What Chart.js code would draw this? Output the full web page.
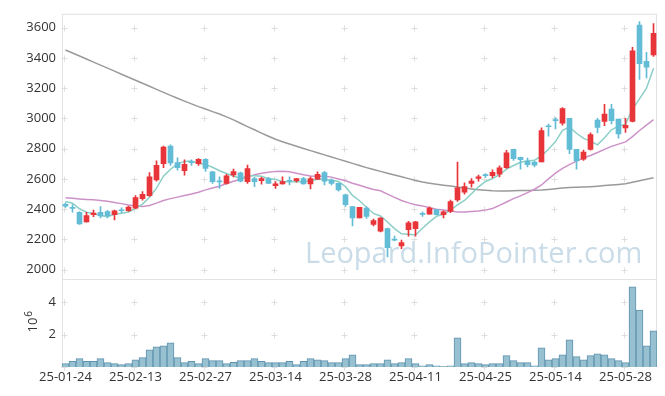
<!DOCTYPE html>
<html>
<head>
<meta charset="utf-8">
<script src="https://cdn.jsdelivr.net/npm/chart.js@4.4.1/dist/chart.umd.min.js"></script>
<style>
  html, body { margin: 0; padding: 0; background: #fff; }
  canvas { display: block; }
</style>
</head>
<body>
<canvas id="chart" width="665" height="396"></canvas>
<script>
const dates = [
  '25-01-24','25-01-31','25-02-03','25-02-04','25-02-05','25-02-06','25-02-07','25-02-10','25-02-11','25-02-12',
  '25-02-13','25-02-14','25-02-17','25-02-18','25-02-19','25-02-20','25-02-21','25-02-24','25-02-25','25-02-26',
  '25-02-27','25-02-28','25-03-04','25-03-05','25-03-06','25-03-07','25-03-10','25-03-11','25-03-12','25-03-13',
  '25-03-14','25-03-17','25-03-18','25-03-19','25-03-20','25-03-21','25-03-24','25-03-25','25-03-26','25-03-27',
  '25-03-28','25-03-31','25-04-01','25-04-02','25-04-03','25-04-04','25-04-07','25-04-08','25-04-09','25-04-10',
  '25-04-11','25-04-14','25-04-15','25-04-16','25-04-17','25-04-18','25-04-21','25-04-22','25-04-23','25-04-24',
  '25-04-25','25-04-28','25-04-29','25-04-30','25-05-02','25-05-07','25-05-08','25-05-09','25-05-12','25-05-13',
  '25-05-14','25-05-15','25-05-16','25-05-19','25-05-20','25-05-21','25-05-22','25-05-23','25-05-26','25-05-27',
  '25-05-28','25-05-29','25-05-30','25-06-02','25-06-04'
];

const opens = [
  2433,2412,2379,2316,2364,2380,2385,2364,2396,2390,
  2407,2469,2490,2593,2701,2817,2708,2654,2713,2701,
  2730,2647,2587,2571,2627,2640,2582,2603,2588,2603,
  2556,2567,2591,2588,2603,2567,2599,2642,2593,2571,
  2495,2418,2342,2407,2299,2255,2272,2203,2157,2265,
  2272,2372,2368,2397,2364,2386,2462,2512,2571,2603,
  2628,2621,2632,2675,2795,2743,2717,2712,2712,2951,
  2993,2969,3000,2795,2730,2795,2989,2980,3061,2996,
  2937,2980,3616,3377,3420
];
const highs = [
  2442,2430,2385,2380,2394,2418,2392,2395,2410,2420,
  2490,2516,2642,2719,2817,2825,2740,2727,2727,2735,
  2735,2650,2614,2630,2665,2645,2691,2610,2610,2610,
  2582,2614,2614,2603,2610,2614,2647,2650,2600,2575,
  2500,2418,2412,2415,2335,2345,2275,2222,2196,2320,
  2320,2382,2415,2400,2390,2460,2712,2575,2603,2625,
  2635,2660,2686,2789,2797,2745,2738,2717,2937,2963,
  3006,3072,3000,2795,2790,2904,3000,3093,3093,2996,
  3000,3470,3639,3436,3627
];
const lows = [
  2412,2380,2300,2314,2350,2342,2342,2330,2378,2385,
  2405,2460,2484,2585,2675,2690,2658,2625,2690,2690,
  2650,2570,2538,2565,2614,2580,2571,2549,2565,2570,
  2538,2565,2560,2578,2565,2534,2596,2560,2560,2520,
  2418,2290,2342,2340,2290,2250,2085,2190,2140,2222,
  2222,2353,2368,2360,2342,2378,2451,2500,2545,2585,
  2610,2608,2614,2670,2723,2665,2680,2680,2712,2882,
  2930,2956,2767,2665,2723,2790,2904,2952,2963,2869,
  2908,2976,3257,3268,3410
];
const closes = [
  2420,2405,2303,2358,2374,2355,2358,2390,2390,2414,
  2477,2499,2614,2690,2810,2706,2675,2697,2707,2730,
  2669,2582,2580,2621,2648,2586,2669,2582,2603,2571,
  2567,2582,2585,2603,2567,2603,2630,2586,2571,2527,
  2430,2342,2412,2353,2325,2342,2146,2196,2180,2310,
  2316,2366,2408,2364,2382,2451,2542,2549,2586,2614,
  2622,2643,2673,2773,2734,2727,2695,2691,2920,2945,
  2985,3065,2795,2719,2778,2893,2941,3028,2985,2897,
  2954,3446,3361,3338,3562
];

// moving averages
const ma5 = [
  2451,2440,2403,2380,2372,2359,2350,2367,2373,2381,
  2406,2434,2479,2539,2618,2664,2699,2716,2719,2703,
  2696,2677,2654,2636,2620,2603,2621,2621,2618,2602,
  2598,2581,2582,2582,2581,2588,2598,2598,2591,2583,
  2549,2491,2456,2413,2372,2355,2316,2272,2238,2235,
  2230,2274,2316,2353,2367,2394,2429,2458,2502,2548,
  2583,2603,2628,2665,2689,2710,2720,2724,2753,2796,
  2847,2921,2942,2902,2868,2850,2825,2872,2925,2949,
  2961,3062,3129,3199,3332
];
const ma20 = [
  2476,2472,2468,2465,2462,2458,2452,2445,2437,2428,
  2421,2418,2425,2440,2458,2470,2480,2490,2500,2512,
  2528,2540,2552,2570,2585,2598,2612,2628,2638,2645,
  2650,2651,2648,2638,2628,2620,2618,2618,2612,2600,
  2588,2572,2558,2543,2530,2522,2500,2478,2458,2442,
  2430,2422,2410,2400,2395,2388,2382,2382,2385,2388,
  2394,2405,2425,2448,2470,2488,2510,2532,2560,2600,
  2638,2670,2695,2718,2738,2755,2775,2795,2815,2830,
  2845,2880,2920,2955,2992
];
const maLong = [
  3452,3432,3412,3392,3372,3352,3332,3312,3292,3272,
  3252,3232,3212,3192,3172,3152,3133,3114,3096,3078,
  3062,3045,3029,3010,2990,2968,2946,2925,2903,2882,
  2862,2846,2831,2816,2801,2787,2773,2759,2745,2731,
  2717,2703,2689,2675,2662,2650,2638,2626,2614,2602,
  2590,2580,2572,2565,2559,2553,2547,2540,2534,2529,
  2525,2522,2521,2521,2522,2523,2524,2525,2527,2531,
  2536,2540,2543,2545,2547,2549,2552,2556,2560,2564,
  2568,2578,2588,2598,2608
];

// volume in millions of shares
const volumes = [
  0.21,0.35,0.52,0.35,0.35,0.52,0.27,0.21,0.15,0.21,
  0.45,0.58,1.07,1.25,1.31,1.50,0.58,0.27,0.35,0.21,
  0.52,0.39,0.39,0.21,0.29,0.39,0.39,0.52,0.35,0.27,
  0.27,0.27,0.35,0.15,0.35,0.52,0.45,0.39,0.27,0.27,
  0.52,0.76,0.15,0.15,0.21,0.21,0.45,0.21,0.27,0.52,
  0.21,0.08,0.15,0.08,0.02,0.08,1.81,0.21,0.27,0.21,
  0.15,0.21,0.21,0.70,0.39,0.27,0.27,0.08,1.19,0.45,
  0.52,0.76,1.68,0.64,0.45,0.70,0.82,0.76,0.52,0.39,
  0.27,4.97,3.53,1.31,2.24
];

const priceMin = 1941, priceMax = 3691;
const volMax = 5.47;

const upColor = '#e8353a';
const downColor = '#62bcd6';
const candleColors = closes.map((c, i) => c >= opens[i] ? upColor : downColor);
const tickFont = { family: '"Open Sans"', size: 13 };

const decor = {
  id: 'decor',
  beforeDatasetsDraw(chart) {
    const { ctx, chartArea: a, scales } = chart;
    ctx.save();
    // watermark
    ctx.font = '29px "Open Sans"';
    ctx.fillStyle = '#c9dce8';
    ctx.textBaseline = 'alphabetic';
    ctx.fillText('Leopard.InfoPointer.com', 305, 263);

    // frame
    ctx.strokeStyle = '#e2e2e2';
    ctx.lineWidth = 1;
    ctx.strokeRect(a.left + 0.5, a.top + 0.5, a.width - 1, a.height - 1);
    const sep = Math.round(scales.y.bottom) + 0.5;
    ctx.beginPath();
    ctx.moveTo(a.left, sep);
    ctx.lineTo(a.right, sep);
    ctx.stroke();

    // little crosses at grid intersections
    ctx.strokeStyle = '#dedede';
    ctx.beginPath();
    for (let i = 0; i < dates.length; i += 10) {
      const px = Math.round(scales.x.getPixelForValue(i)) - 1.5;
      for (const s of [scales.y, scales.yv]) {
        s.ticks.forEach(t => {
          const py = Math.round(s.getPixelForValue(t.value)) + 0.5;
          ctx.moveTo(px - 3, py); ctx.lineTo(px + 3, py);
          ctx.moveTo(px, py - 3); ctx.lineTo(px, py + 3);
        });
      }
    }
    ctx.stroke();
    ctx.restore();
  },
  afterDraw(chart) {
    const { ctx } = chart;
    ctx.save();
    ctx.translate(33, 325);
    ctx.rotate(-Math.PI / 2);
    ctx.fillStyle = '#333';
    ctx.textAlign = 'center';
    ctx.textBaseline = 'middle';
    ctx.font = '13px "Open Sans"';
    ctx.fillText('10', 0, 0);
    ctx.font = '10px "Open Sans"';
    ctx.fillText('6', 11, -4);
    ctx.restore();
  }
};

new Chart(document.getElementById('chart'), {
  data: {
    labels: dates,
    datasets: [
      {
        type: 'bar', label: 'body', yAxisID: 'y', order: 1, grouped: false,
        data: opens.map((o, i) => [o, closes[i]]),
        backgroundColor: candleColors, barThickness: 5, minBarLength: 1, borderWidth: 0
      },
      {
        type: 'bar', label: 'wick', yAxisID: 'y', order: 2, grouped: false,
        data: lows.map((l, i) => [l, highs[i]]),
        backgroundColor: candleColors, barThickness: 1, borderWidth: 0
      },
      {
        type: 'line', label: 'MA5', yAxisID: 'y', order: 3, data: ma5,
        borderColor: '#8bcfc6', borderWidth: 1.5, pointRadius: 0, tension: 0
      },
      {
        type: 'line', label: 'MA20', yAxisID: 'y', order: 3, data: ma20,
        borderColor: '#cc92c8', borderWidth: 1.5, pointRadius: 0, tension: 0
      },
      {
        type: 'line', label: 'MA120', yAxisID: 'y', order: 3, data: maLong,
        borderColor: '#9a9a9a', borderWidth: 1.5, pointRadius: 0, tension: 0
      },
      {
        type: 'bar', label: 'volume', yAxisID: 'yv', order: 4, grouped: false,
        data: volumes,
        backgroundColor: '#97c0d0', borderColor: '#5f94ae', borderWidth: 1,
        barPercentage: 1, categoryPercentage: 1
      }
    ]
  },
  options: {
    responsive: false,
    devicePixelRatio: 1,
    animation: false,
    layout: { padding: { left: 0, right: 8, top: 10, bottom: 0 } },
    plugins: { legend: { display: false }, tooltip: { enabled: false } },
    scales: {
      x: {
        type: 'category',
        grid: { display: false, drawTicks: false },
        border: { display: false },
        afterFit(s) { s.height = 29; },
        ticks: {
          autoSkip: false, maxRotation: 0, padding: 2,
          color: '#333', font: tickFont,
          callback: (v, i) => i % 10 === 0 ? dates[i] : ''
        }
      },
      yv: {
        position: 'left', stack: 'panels', stackWeight: 1,
        min: 0, max: volMax,
        grid: { display: false, drawTicks: false }, border: { display: false },
        afterFit(s) { s.width = 62; },
        ticks: {
          stepSize: 2, includeBounds: false, autoSkip: false, padding: 6,
          color: '#333', font: tickFont,
          callback: v => v === 0 ? '' : String(v)
        }
      },
      y: {
        position: 'left', stack: 'panels', stackWeight: 3,
        min: priceMin, max: priceMax,
        grid: { display: false, drawTicks: false }, border: { display: false },
        afterFit(s) { s.width = 62; },
        ticks: {
          stepSize: 200, includeBounds: false, autoSkip: false, padding: 6,
          color: '#333', font: tickFont,
          callback: v => String(v)
        }
      }
    }
  },
  plugins: [decor]
});
</script>
</body>
</html>
